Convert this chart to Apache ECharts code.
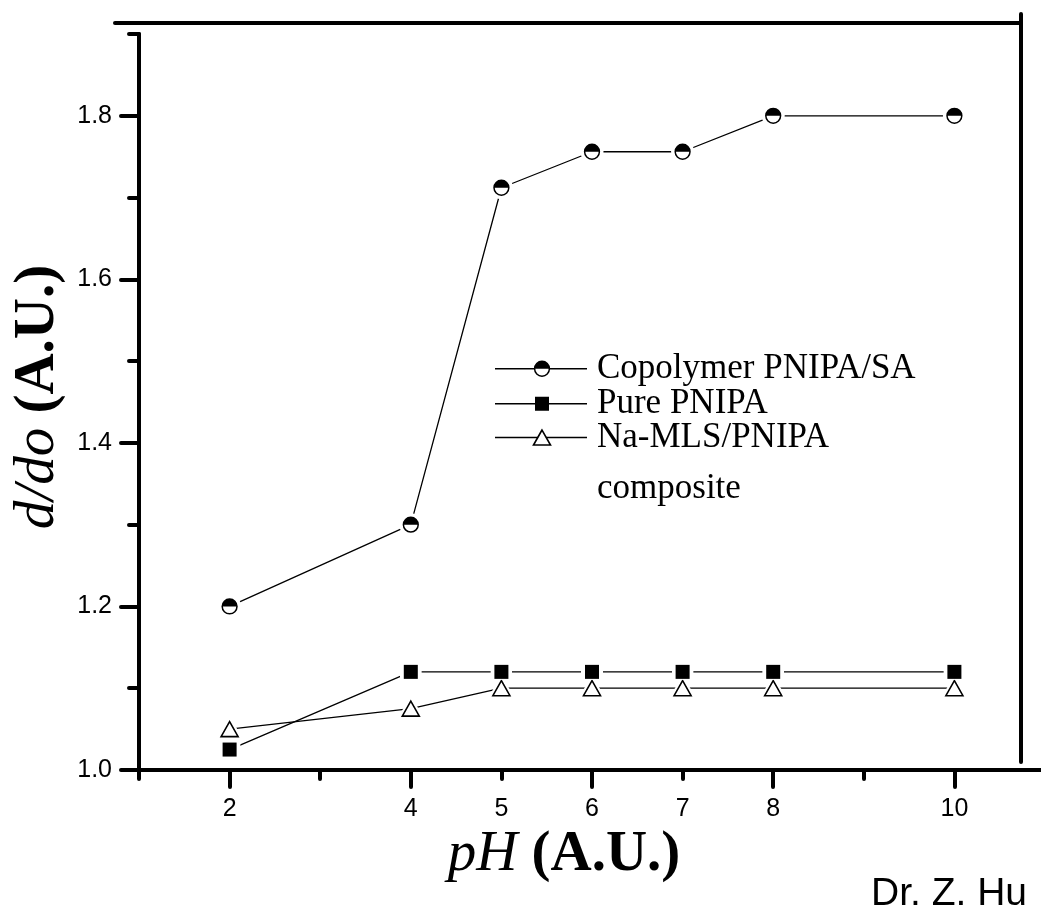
<!DOCTYPE html>
<html>
<head>
<meta charset="utf-8">
<title>d/do vs pH</title>
<script src="https://cdn.jsdelivr.net/npm/echarts@6/dist/echarts.min.js"></script>
<style>
  html, body { margin: 0; padding: 0; background: #fff; }
  #chart { width: 1041px; height: 913px; }
</style>
</head>
<body>
<div id="chart"></div>
<script>
// pH values at which swelling was measured
const phValues = [2, 4, 5, 6, 7, 8, 10];

// Swelling ratio d/do for each material
const copolymerValues = [1.20, 1.30, 1.712, 1.756, 1.756, 1.80, 1.80];
const pureValues      = [1.025, 1.12, 1.12, 1.12, 1.12, 1.12, 1.12];
const compositeValues = [1.05, 1.075, 1.10, 1.10, 1.10, 1.10, 1.10];

const seriesNames = ['Copolymer PNIPA/SA', 'Pure PNIPA', 'Na-MLS/PNIPA composite'];

// Axis ticks and labels
const xRange = [1, 11];
const xLabelValues = [2, 4, 5, 6, 7, 8, 10];
const xMajorTicks = [2, 4, 6, 8, 10];
const xMinorTicks = [1, 3, 5, 7, 9, 11];
const yRange = [1.0, 1.9];
const yLabelValues = [1.0, 1.2, 1.4, 1.6, 1.8];
const yMinorTicks = [1.1, 1.3, 1.5, 1.7, 1.9];

// ---- marker artwork (SVG data URIs) ----
const svgUri = s => 'image://data:image/svg+xml;charset=utf-8,' + encodeURIComponent(s);

// half-filled circle; the outer white disc leaves a small gap where lines meet the marker
function halfCircleSvg(w, h, cx, cy, halo, line) {
  let s = `<svg xmlns="http://www.w3.org/2000/svg" width="${w}" height="${h}" viewBox="0 0 ${w} ${h}">`;
  if (line) s += `<line x1="0" y1="${cy}" x2="${line}" y2="${cy}" stroke="#000" stroke-width="1.3"/>`;
  if (halo) s += `<circle cx="${cx}" cy="${cy}" r="11.5" fill="#fff"/>`;
  s += `<circle cx="${cx}" cy="${cy}" r="7.4" fill="#fff" stroke="#000" stroke-width="1.5"/>`;
  s += `<path d="M${cx - 7.4},${cy} A7.4,7.4 0 0 1 ${cx + 7.4},${cy} Z" fill="#000"/>`;
  return s + '</svg>';
}
function squareSvg(w, h, cx, cy, halo, line) {
  let s = `<svg xmlns="http://www.w3.org/2000/svg" width="${w}" height="${h}" viewBox="0 0 ${w} ${h}">`;
  if (line) s += `<line x1="0" y1="${cy}" x2="${line}" y2="${cy}" stroke="#000" stroke-width="1.3"/>`;
  if (halo) s += `<rect x="${cx - 11}" y="${cy - 8}" width="22" height="16" fill="#fff"/>`;
  s += `<rect x="${cx - 7}" y="${cy - 7}" width="14" height="14" fill="#000"/>`;
  return s + '</svg>';
}
function triangleSvg(w, h, cx, cy, halo, line) {
  const pts = `${cx},${cy - 7.5} ${cx - 8.5},${cy + 7.5} ${cx + 8.5},${cy + 7.5}`;
  let s = `<svg xmlns="http://www.w3.org/2000/svg" width="${w}" height="${h}" viewBox="0 0 ${w} ${h}">`;
  if (line) s += `<line x1="0" y1="${cy}" x2="${line}" y2="${cy}" stroke="#000" stroke-width="1.3"/>`;
  if (halo) s += `<polygon points="${pts}" fill="#fff" stroke="#fff" stroke-width="6" stroke-linejoin="round"/>`;
  s += `<polygon points="${pts}" fill="#fff" stroke="#000" stroke-width="1.6"/>`;
  return s + '</svg>';
}

const markCircle   = svgUri(halfCircleSvg(24, 24, 12, 12, true));
const markSquare   = svgUri(squareSvg(22, 18, 11, 9, true));
const markTriangle = svgUri(triangleSvg(26, 24, 13, 12, true));

const legendCircle   = svgUri(halfCircleSvg(97, 24, 47, 12, false, 92));
const legendSquare   = svgUri(squareSvg(97, 24, 47, 12, false, 92));
const legendTriangle = svgUri(triangleSvg(97, 24, 47, 12, false, 92));

const pairs = vals => phValues.map((x, i) => [x, vals[i]]);

const serif = '"Liberation Serif", "Times New Roman", serif';
const sans = '"Liberation Sans", Arial, sans-serif';
const black = '#000';

function lineSeries(name, vals, symbol, size, z) {
  return {
    name: name,
    type: 'line',
    data: pairs(vals),
    symbol: symbol,
    symbolSize: size,
    showAllSymbol: true,
    z: z,
    lineStyle: { color: black, width: 1.3 },
    itemStyle: { color: black },
    emphasis: { disabled: true },
    animation: false
  };
}

const nameFont = 57;
const nameRich = {
  i: { fontFamily: serif, fontSize: nameFont, fontStyle: 'italic', color: black },
  b: { fontFamily: serif, fontSize: nameFont, fontWeight: 'bold', color: black }
};
const legendText = { fontFamily: serif, fontSize: 35, lineHeight: 34.5, color: black };

const option = {
  backgroundColor: '#fff',
  animation: false,
  grid: { left: 139, top: 34, width: 906, height: 736, containLabel: false, outerBoundsMode: 'none' },
  xAxis: [
    {
      type: 'value', min: xRange[0], max: xRange[1], interval: 1,
      name: '{i|pH} {b|(A.U.)}',
      nameLocation: 'middle', nameGap: 52,
      nameTextStyle: {
        fontFamily: serif, fontSize: nameFont, color: black, padding: [0, 56, 0, 0],
        rich: nameRich
      },
      axisLine: { show: true, lineStyle: { color: black, width: 4 } },
      axisTick: { show: true, customValues: xMajorTicks, length: 17, lineStyle: { color: black, width: 4, cap: 'round' } },
      axisLabel: { customValues: xLabelValues, fontFamily: sans, fontSize: 25, color: black, margin: 27 },
      splitLine: { show: false }
    },
    {
      type: 'value', min: xRange[0], max: xRange[1], interval: 1, position: 'bottom',
      axisLine: { show: false },
      axisTick: { show: true, customValues: xMinorTicks, length: 9, lineStyle: { color: black, width: 4, cap: 'round' } },
      axisLabel: { show: false },
      splitLine: { show: false }
    }
  ],
  yAxis: [
    {
      type: 'value', min: yRange[0], max: yRange[1], interval: 0.1,
      name: '{i|d/do} {b|(A.U.)}',
      nameLocation: 'middle', nameRotate: 90, nameGap: 72,
      nameTextStyle: {
        fontFamily: serif, fontSize: nameFont, color: black, padding: [0, 0, 0, 10],
        rich: nameRich
      },
      axisLine: { show: true, lineStyle: { color: black, width: 4 } },
      axisTick: { show: true, customValues: yLabelValues, length: 18, lineStyle: { color: black, width: 4, cap: 'round' } },
      axisLabel: {
        customValues: yLabelValues, fontFamily: sans, fontSize: 25, color: black, margin: 27,
        formatter: v => Number(v).toFixed(1)
      },
      splitLine: { show: false }
    },
    {
      type: 'value', min: yRange[0], max: yRange[1], interval: 0.1, position: 'left',
      axisLine: { show: false },
      axisTick: { show: true, customValues: yMinorTicks, length: 10, lineStyle: { color: black, width: 4, cap: 'round' } },
      axisLabel: { show: false },
      splitLine: { show: false }
    }
  ],
  legend: [
    {
      orient: 'vertical', left: 495, top: 351.25, padding: 0, itemGap: 0,
      itemWidth: 97, itemHeight: 24, selectedMode: false,
      textStyle: legendText,
      data: [
        { name: seriesNames[0], icon: legendCircle },
        { name: seriesNames[1], icon: legendSquare }
      ]
    },
    {
      orient: 'vertical', left: 495, top: 352.75, padding: 0, itemGap: 0,
      itemWidth: 97, itemHeight: 24, selectedMode: false,
      textStyle: Object.assign({}, legendText, {
        rich: {
          s: { fontFamily: serif, fontSize: 35, lineHeight: 67.5, color: black },
          a: { fontFamily: serif, fontSize: 35, lineHeight: 34.5, color: black },
          b: { fontFamily: serif, fontSize: 35, lineHeight: 67.5, color: black }
        }
      }),
      formatter: () => '{s| }\n{a|Na-MLS/PNIPA}\n{b|composite}',
      data: [{ name: seriesNames[2], icon: legendTriangle }]
    }
  ],
  series: [
    lineSeries(seriesNames[2], compositeValues, markTriangle, [26, 24], 2),
    lineSeries(seriesNames[1], pureValues, markSquare, [22, 18], 3),
    lineSeries(seriesNames[0], copolymerValues, markCircle, [24, 24], 4)
  ],
  graphic: [
    // open frame: top rule and right rule
    { type: 'line', shape: { x1: 115, y1: 23, x2: 1021, y2: 23 }, style: { stroke: black, lineWidth: 4, lineCap: 'round' }, silent: true },
    { type: 'line', shape: { x1: 1021, y1: 14, x2: 1021, y2: 762 }, style: { stroke: black, lineWidth: 4, lineCap: 'round' }, silent: true },
    {
      type: 'text', left: 871, top: 875, silent: true,
      style: { text: 'Dr. Z. Hu', fontFamily: sans, fontSize: 39, fill: black }
    }
  ]
};

const chart = echarts.init(document.getElementById('chart'), null, { renderer: 'canvas' });
chart.setOption(option);
</script>
</body>
</html>
